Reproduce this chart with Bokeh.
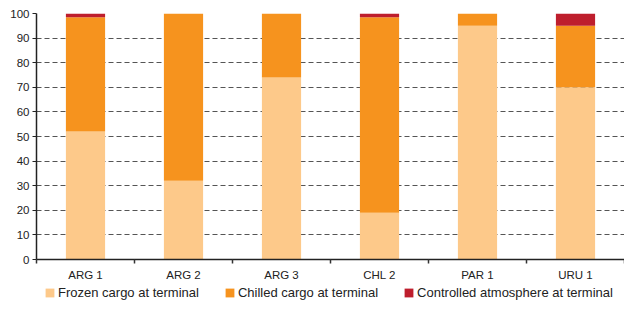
from bokeh.plotting import figure
from bokeh.layouts import column
from bokeh.models import ColumnDataSource, FixedTicker, Legend, LegendItem, Range1d
from bokeh.embed import file_html
from bokeh.resources import INLINE

categories = ["ARG 1", "ARG 2", "ARG 3", "CHL 2", "PAR 1", "URU 1"]
frozen = [52, 32, 74, 19, 95, 70]
chilled = [46.5, 68, 26, 79.5, 5, 25]
controlled = [1.5, 0, 0, 1.5, 0, 5]
y_ticks = [0, 10, 20, 30, 40, 50, 60, 70, 80, 90, 100]
series_labels = ["Frozen cargo at terminal", "Chilled cargo at terminal",
                 "Controlled atmosphere at terminal"]
colors = ["#FDC98A", "#F6931E", "#BE1E2D"]

xpos = [i + 0.5 for i in range(len(categories))]
source = ColumnDataSource(dict(x=xpos, frozen=frozen, chilled=chilled, ca=controlled))

p = figure(width=624, height=283, output_backend="svg", toolbar_location=None,
           x_range=Range1d(0, len(categories)), y_range=Range1d(0, 100),
           min_border_left=36, min_border_right=0, min_border_top=13, min_border_bottom=20)
p.outline_line_color = None
p.background_fill_color = "white"
p.border_fill_color = "white"

rs = p.vbar_stack(["frozen", "chilled", "ca"], x="x", width=0.4, color=colors,
                  line_color=None, source=source)

# axes
p.xaxis.ticker = FixedTicker(ticks=xpos, minor_ticks=list(range(len(categories) + 1)))
p.xaxis.major_label_overrides = {x: c for x, c in zip(xpos, categories)}
p.xaxis.minor_tick_line_color = "#333333"
p.xaxis.minor_tick_out = 4
p.xaxis.minor_tick_in = 0
p.yaxis.ticker = FixedTicker(ticks=y_ticks)
p.yaxis.minor_tick_line_color = None
p.yaxis.major_tick_out = 4
p.yaxis.major_tick_in = 0
for ax in (p.xaxis, p.yaxis):
    ax.axis_line_color = "#222222"
    ax.axis_line_width = 1.5
    ax.major_label_text_font = "Liberation Sans"
    ax.major_label_text_font_size = "11.5px"
    ax.major_label_text_color = "#222222"
    ax.major_label_standoff = 3
p.xaxis.major_tick_line_color = None
p.yaxis.major_tick_line_color = "#222222"
p.xaxis.minor_tick_line_width = 1.5

p.xgrid.grid_line_color = None
p.ygrid.ticker = FixedTicker(ticks=y_ticks)
p.ygrid.grid_line_color = "#555555"
p.ygrid.grid_line_dash = "5 3"
p.ygrid.grid_line_width = 1

# legend strip below the chart: same stacked series, kept outside this strip's view
lf = figure(width=624, height=17, output_backend="svg", toolbar_location=None,
            x_axis_type=None, y_axis_type=None,
            x_range=Range1d(-20, -10), y_range=Range1d(0, 100),
            min_border_left=0, min_border_right=0, min_border_top=0, min_border_bottom=0)
lf.grid.visible = False
lf.outline_line_color = None
lf.border_fill_color = "white"
lf.background_fill_color = "white"
key_renderers = lf.vbar_stack(["frozen", "chilled", "ca"], x="x", width=0.4, color=colors,
                              line_color=None, source=source)

legend = Legend(items=[LegendItem(label=l, renderers=[r]) for l, r in zip(series_labels, key_renderers)],
                orientation="horizontal", location=(8, 0),
                label_text_font="Liberation Sans", label_text_font_size="13px",
                label_text_color="#222222", glyph_width=11, glyph_height=11,
                label_height=14, label_standoff=3, spacing=25, padding=1, margin=0,
                border_line_color=None, background_fill_alpha=0)
lf.add_layout(legend, "center")

layout = column(p, lf, spacing=0)
open("out.html", "w").write(file_html(layout, INLINE))
